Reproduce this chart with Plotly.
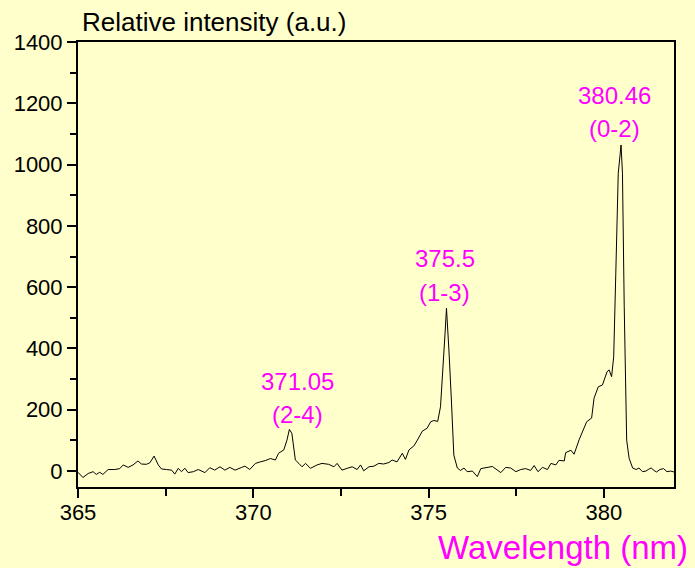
import plotly.graph_objects as go

wavelength = [
    365.00, 365.14, 365.29, 365.43, 365.52, 365.62, 365.71, 365.86, 366.05, 366.19,
    366.29, 366.43, 366.57, 366.71, 366.81, 366.95, 367.05, 367.17, 367.29, 367.38,
    367.52, 367.67, 367.76, 367.86, 367.95, 368.05, 368.14, 368.29, 368.43, 368.62,
    368.76, 368.90, 369.05, 369.19, 369.33, 369.48, 369.67, 369.76, 369.90, 370.06,
    370.20, 370.34, 370.49, 370.63, 370.72, 370.87, 370.96, 371.03, 371.10, 371.20,
    371.30, 371.39, 371.49, 371.63, 371.82, 371.96, 372.15, 372.30, 372.39, 372.53,
    372.68, 372.82, 372.96, 373.06, 373.15, 373.30, 373.44, 373.58, 373.72, 373.87,
    373.96, 374.10, 374.25, 374.34, 374.44, 374.58, 374.68, 374.82, 374.96, 375.06,
    375.15, 375.26, 375.34, 375.42, 375.47, 375.51, 375.55, 375.58, 375.65, 375.72,
    375.82, 375.91, 376.01, 376.10, 376.25, 376.39, 376.49, 376.63, 376.82, 377.06,
    377.20, 377.34, 377.49, 377.63, 377.77, 377.91, 378.01, 378.12, 378.25, 378.39,
    378.49, 378.63, 378.72, 378.87, 378.91, 379.06, 379.15, 379.30, 379.44, 379.51,
    379.65, 379.72, 379.84, 379.96, 380.09, 380.15, 380.22, 380.28, 380.34, 380.41,
    380.49, 380.53, 380.58, 380.65, 380.72, 380.82, 380.92, 381.00, 381.10, 381.20,
    381.28, 381.35, 381.43, 381.50, 381.60, 381.70, 381.80, 381.90, 382.00,
]

intensity = [
    -4, -21, -8, -2, -11, -4, -11, 5, 5, 8,
    20, 12, 20, 33, 23, 22, 27, 49, 20, 7,
    5, 3, -10, 9, -2, 9, -5, -2, 5, -5,
    11, 3, 14, 3, 12, 3, 12, 16, 5, 25,
    30, 34, 41, 36, 58, 69, 101, 136, 123, 36,
    25, 14, 25, 9, 20, 25, 22, 14, 25, 3,
    9, 14, 5, 20, 1, 14, 16, 25, 23, 28,
    36, 30, 58, 38, 69, 82, 101, 130, 140, 161,
    165, 162, 210, 340, 450, 531, 470, 395, 232, 52,
    10, 2, 10, -2, 0, -18, 8, 12, 15, -5,
    12, 10, -2, 5, 8, 2, 18, -2, 12, 5,
    25, 20, 35, 33, 60, 68, 55, 104, 140, 161,
    173, 238, 275, 281, 324, 330, 308, 373, 646, 972,
    1064, 972, 536, 101, 42, 10, 5, 10, -2, 0,
    6, 10, 2, -3, 5, 8, -2, 0, -3,
]

x_ticks = [365, 370, 375, 380]
y_ticks = [0, 200, 400, 600, 800, 1000, 1200, 1400]

peak_labels = [
    {"x": 371.26, "line1": "371.05", "line2": "(2-4)", "y1": 291, "y2": 183},
    {"x": 375.46, "line1": "375.5", "line2": "(1-3)", "y1": 695, "y2": 584},
    {"x": 380.29, "line1": "380.46", "line2": "(0-2)", "y1": 1224, "y2": 1119},
]

MAGENTA = "#FF00FF"
BG = "#FFFFCC"
FONT = "Liberation Sans, Arial, sans-serif"

fig = go.Figure()
fig.add_trace(go.Scatter(
    x=wavelength, y=intensity, mode="lines",
    line=dict(color="black", width=1), hoverinfo="skip", showlegend=False,
))

annotations = []
for p in peak_labels:
    for txt, yy in ((p["line1"], p["y1"]), (p["line2"], p["y2"])):
        annotations.append(dict(
            x=p["x"], y=yy, xref="x", yref="y", text=txt, showarrow=False,
            xanchor="center", yanchor="middle",
            font=dict(color=MAGENTA, size=24, family=FONT),
        ))

annotations.append(dict(
    x=0.003, y=1.045, xref="paper", yref="paper", text="Relative intensity (a.u.)",
    showarrow=False, xanchor="left", yanchor="middle",
    font=dict(color="black", size=26, family=FONT),
))
annotations.append(dict(
    x=1.027, y=-0.137, xref="paper", yref="paper", text="Wavelength (nm)",
    showarrow=False, xanchor="right", yanchor="middle",
    font=dict(color=MAGENTA, size=33, family=FONT),
))

fig.update_layout(
    width=695, height=568,
    margin=dict(l=78, r=21, t=42, b=81),
    paper_bgcolor=BG, plot_bgcolor=BG,
    font=dict(family=FONT, color="black", size=21),
    annotations=annotations,
    xaxis=dict(
        range=[365, 382], tickvals=x_ticks, ticks="outside", ticklen=9, tickwidth=1.5,
        tickcolor="black", showline=True, linecolor="black", linewidth=2, mirror=True,
        showgrid=False, zeroline=False, tickfont=dict(size=22), ticklabelstandoff=-4,
        minor=dict(tickvals=[367.5, 372.5, 377.5], ticks="outside", ticklen=7,
                   tickwidth=1.5, tickcolor="black", showgrid=False),
    ),
    yaxis=dict(
        range=[-52, 1400], tickvals=y_ticks, ticks="outside", ticklen=9, tickwidth=1.5,
        tickcolor="black", showline=True, linecolor="black", linewidth=2, mirror=True,
        showgrid=False, zeroline=False, tickfont=dict(size=22),
        minor=dict(tickvals=[100, 300, 500, 700, 900, 1100, 1300], ticks="outside",
                   ticklen=6, tickwidth=1.5, tickcolor="black", showgrid=False),
    ),
)

fig.write_html(
    "out.html",
    config={"displayModeBar": False},
    post_script="document.body.style.margin='0';document.body.style.background='#FFFFCC';"
                "document.body.style.overflow='hidden';",
)
